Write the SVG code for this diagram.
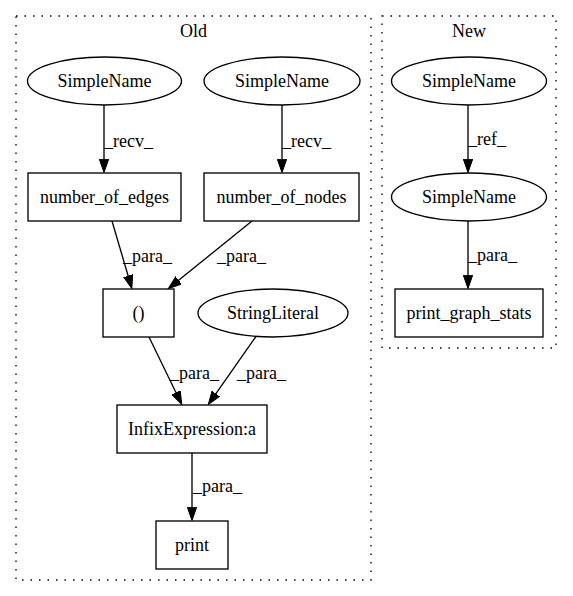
<svg xmlns="http://www.w3.org/2000/svg" width="573" height="596" viewBox="0 0 573 596">
<style>
text{font-family:"Liberation Serif","Times New Roman",serif;font-size:18px;fill:#000}
.c{text-anchor:middle}
.n{fill:#fff;stroke:#000;stroke-width:1.33}
.cl{fill:none;stroke:#000;stroke-width:1.33;stroke-dasharray:1.5,7}
.e{fill:none;stroke:#000;stroke-width:1.33;marker-end:url(#ah)}
</style>
<defs>
<marker id="ah" markerUnits="userSpaceOnUse" markerWidth="14" markerHeight="10" viewBox="0 0 14 10" refX="0.5" refY="4.67" orient="auto">
<path d="M0,0 L13.3,4.67 L0,9.33 Z" fill="#000" stroke="#000" stroke-width="1"/>
</marker>
</defs>
<rect fill="#fff" width="573" height="596"/>
<g id="cluster_old">
<rect class="cl" x="16" y="16" width="355" height="564"/>
<text class="c" x="193.5" y="37">Old</text>
</g>
<g id="cluster_new">
<rect class="cl" x="382" y="16" width="174" height="332"/>
<text class="c" x="469" y="37">New</text>
</g>
<g id="edges">
<path class="e" d="M104,105 L104,159.7"/>
<text x="104" y="147">_recv_</text>
<path class="e" d="M282,105 L282,159.7"/>
<text x="282" y="147">_recv_</text>
<path class="e" d="M112,221 L128.25,276.25"/>
<text x="123" y="262">_para_</text>
<path class="e" d="M252,221 L178.3,280.6"/>
<text x="217" y="262">_para_</text>
<path class="e" d="M149,337 L176.2,393"/>
<text x="170" y="379">_para_</text>
<path class="e" d="M257,335 L215.6,394.1"/>
<text x="237" y="379">_para_</text>
<path class="e" d="M192,453 L192,507.7"/>
<text x="193" y="492">_para_</text>
<path class="e" d="M468,105 L468,159.7"/>
<text x="468" y="145">_ref_</text>
<path class="e" d="M468,221 L468,275.7"/>
<text x="468" y="261">_para_</text>
</g>
<g id="n_simplename_old1">
<ellipse class="n" cx="104.5" cy="81" rx="77" ry="24"/>
<text class="c" x="104.5" y="87">SimpleName</text>
</g>
<g id="n_simplename_old2">
<ellipse class="n" cx="282" cy="81" rx="78" ry="24"/>
<text class="c" x="282" y="87">SimpleName</text>
</g>
<g id="n_number_of_edges">
<rect class="n" x="28" y="173" width="153" height="48"/>
<text class="c" x="104.5" y="203">number_of_edges</text>
</g>
<g id="n_number_of_nodes">
<rect class="n" x="204" y="173" width="155" height="48"/>
<text class="c" x="281.5" y="203">number_of_nodes</text>
</g>
<g id="n_paren">
<rect class="n" x="103" y="289" width="71" height="48"/>
<text class="c" x="138.5" y="319">()</text>
</g>
<g id="n_stringliteral">
<ellipse class="n" cx="273" cy="313" rx="75" ry="24"/>
<text class="c" x="273" y="319">StringLiteral</text>
</g>
<g id="n_infix">
<rect class="n" x="117" y="405" width="150" height="48"/>
<text class="c" x="192" y="435">InfixExpression:a</text>
</g>
<g id="n_print">
<rect class="n" x="156" y="521" width="72" height="48"/>
<text class="c" x="192" y="551">print</text>
</g>
<g id="n_simplename_new1">
<ellipse class="n" cx="469" cy="81" rx="77.5" ry="24"/>
<text class="c" x="469" y="87">SimpleName</text>
</g>
<g id="n_simplename_new2">
<ellipse class="n" cx="469" cy="197" rx="77.5" ry="24"/>
<text class="c" x="469" y="203">SimpleName</text>
</g>
<g id="n_print_graph_stats">
<rect class="n" x="395" y="289" width="148" height="48"/>
<text class="c" x="469" y="319">print_graph_stats</text>
</g>
</svg>
